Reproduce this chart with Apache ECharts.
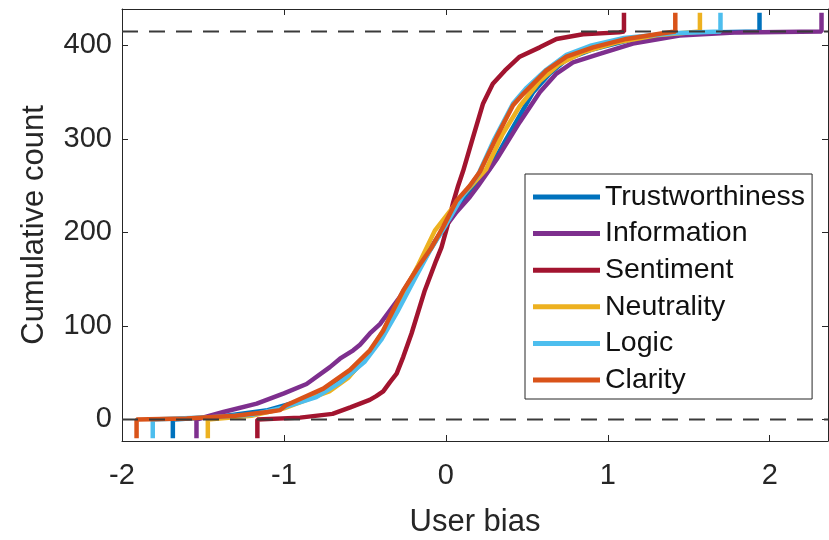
<!DOCTYPE html>
<html>
<head>
<meta charset="utf-8">
<script src="https://cdn.jsdelivr.net/npm/echarts@6/dist/echarts.min.js"></script>
<style>
html,body{margin:0;padding:0;background:#fff;}
#chart{width:829px;height:540px;}
</style>
</head>
<body>
<div id="chart"></div>
<script>
// Category names
const seriesNames = ['Trustworthiness', 'Information', 'Sentiment', 'Neutrality', 'Logic', 'Clarity'];
const seriesColors = ['#0072BD', '#7E2F8E', '#A2142F', '#EDB120', '#4DBEEE', '#D95319'];

// Cumulative count curves [user bias, cumulative count]
const trustworthiness = [[-1.686,-20],[-1.686,0],[-1.4,3],[-1.1,10],[-0.9,20],[-0.716,33],[-0.572,51],[-0.469,71],[-0.387,92],[-0.284,125],[-0.171,160],[-0.05,195],[0.066,226],[0.148,245],[0.27,268],[0.374,300],[0.456,325],[0.539,350],[0.642,370],[0.745,385],[0.909,396],[1.115,405],[1.32,411],[1.6,414],[1.937,415],[1.937,435]];
const information = [[-1.54,-20],[-1.54,0],[-1.374,8],[-1.168,17],[-1.0,28],[-0.86,38],[-0.716,56],[-0.654,65],[-0.572,74],[-0.53,80],[-0.469,92],[-0.407,102],[-0.284,131],[-0.171,163],[-0.05,195],[0.066,222],[0.148,238],[0.2,250],[0.313,278],[0.456,318],[0.58,350],[0.683,370],[0.785,382],[0.95,391],[1.155,402],[1.443,410.6],[1.81,414],[2.32,415],[2.32,435]];
const sentiment = [[-1.164,-20],[-1.164,0],[-0.9,2],[-0.7,6],[-0.59,13],[-0.47,21],[-0.43,25],[-0.387,30],[-0.345,40],[-0.304,49],[-0.263,67],[-0.212,92],[-0.13,138],[-0.06,170],[-0.027,184],[0.008,206],[0.045,232],[0.076,250],[0.107,266],[0.168,302],[0.23,338],[0.29,359],[0.364,373],[0.456,388],[0.58,398],[0.683,407],[0.847,412],[1.07,414],[1.10,415],[1.10,435]];
const neutrality = [[-1.47,-20],[-1.47,0],[-1.2,4],[-1.0,12],[-0.8,25],[-0.72,30],[-0.6,45],[-0.469,72],[-0.387,95],[-0.284,128],[-0.171,165],[-0.068,202],[0.066,232],[0.148,248],[0.25,268],[0.35,305],[0.456,335],[0.58,362],[0.7,380],[0.85,393],[1.05,403],[1.3,411],[1.569,415],[1.569,435]];
const logic = [[-1.81,-20],[-1.81,0],[-1.5,2],[-1.2,5],[-1.0,13],[-0.8,24],[-0.65,40],[-0.5,62],[-0.4,85],[-0.3,115],[-0.2,148],[-0.1,180],[0.0,208],[0.1,238],[0.2,262],[0.3,300],[0.415,338],[0.5,355],[0.62,374],[0.745,390],[0.9,400],[1.1,408],[1.4,413],[1.696,415],[1.696,435]];
const clarity = [[-1.91,-20],[-1.91,0],[-1.6,1],[-1.3,4],[-1.1,8],[-1.024,10],[-0.99,15],[-0.757,33],[-0.592,53],[-0.469,74],[-0.387,95],[-0.345,110],[-0.263,138],[-0.171,163],[-0.088,184],[-0.017,206],[0.066,234],[0.148,250],[0.21,265],[0.313,302],[0.415,336],[0.477,348],[0.539,359],[0.62,373],[0.745,388],[0.909,398],[1.115,407],[1.32,412.5],[1.417,415],[1.417,435]];

// Reference levels (dashed lines)
const totalCount = 415;
const refLevels = [0, totalCount];

// Tick labels
const xTicks = [-2, -1, 0, 1, 2];
const yTicks = [0, 100, 200, 300, 400];
const xRange = [-2, 2.36];
const yRange = [-23, 439];

const curves = [trustworthiness, information, sentiment, neutrality, logic, clarity];

const axisColor = '#262626';
const font = 'Liberation Sans, Arial, sans-serif';

const chart = echarts.init(document.getElementById('chart'), null, {renderer: 'canvas'});

const series = curves.map((d, i) => ({
  name: seriesNames[i],
  type: 'line',
  data: d,
  symbol: 'none',
  showSymbol: false,
  smooth: false,
  clip: true,
  lineStyle: {color: seriesColors[i], width: 4.5},
  itemStyle: {color: seriesColors[i]},
  z: 2 + i
}));

refLevels.forEach((lv) => {
  series.push({
    name: 'ref' + lv,
    type: 'line',
    data: [[xRange[0], lv], [xRange[1], lv]],
    symbol: 'none',
    lineStyle: {color: '#3a3a3a', width: 2, type: [16, 11]},
    z: 20,
    silent: true
  });
});

function mkX(pos, show) {
  return {
    type: 'value', position: pos, min: xRange[0], max: xRange[1],
    axisLine: {show: true, onZero: false, lineStyle: {color: axisColor, width: 1}},
    axisTick: {show: true, inside: true, length: 6, lineStyle: {color: axisColor}, customValues: xTicks},
    axisLabel: {show: show, customValues: xTicks, color: axisColor, fontSize: 29, fontFamily: font, margin: 20},
    splitLine: {show: false},
    name: show ? 'User bias' : '',
    nameLocation: 'middle', nameGap: 66,
    nameTextStyle: {color: axisColor, fontSize: 31, fontFamily: font}
  };
}
function mkY(pos, show) {
  return {
    type: 'value', position: pos, min: yRange[0], max: yRange[1],
    axisLine: {show: true, onZero: false, lineStyle: {color: axisColor, width: 1}},
    axisTick: {show: true, inside: true, length: 6, lineStyle: {color: axisColor}, customValues: yTicks},
    axisLabel: {show: show, customValues: yTicks, color: axisColor, fontSize: 29, fontFamily: font, margin: 10},
    splitLine: {show: false},
    name: show ? 'Cumulative count' : '',
    nameLocation: 'middle', nameGap: 72,
    nameTextStyle: {color: axisColor, fontSize: 31, fontFamily: font}
  };
}

chart.setOption({
  animation: false,
  backgroundColor: '#fff',
  grid: {left: 122, right: 1, top: 9, bottom: 99, containLabel: false, outerBoundsMode: 'none'},
  xAxis: [mkX('bottom', true), mkX('top', false)],
  yAxis: [mkY('left', true), mkY('right', false)],
  legend: {
    data: seriesNames.map((n) => ({name: n, icon: 'rect'})),
    orient: 'vertical',
    left: 525, top: 174,
    itemWidth: 67, itemHeight: 5, itemGap: 6.6,
    padding: [8, 7, 4, 8],
    borderColor: axisColor, borderWidth: 1,
    backgroundColor: '#fff',
    textStyle: {color: '#111', fontSize: 28.5, fontFamily: font, lineHeight: 30},
    selectedMode: false
  },
  series: series
});
</script>
</body>
</html>
